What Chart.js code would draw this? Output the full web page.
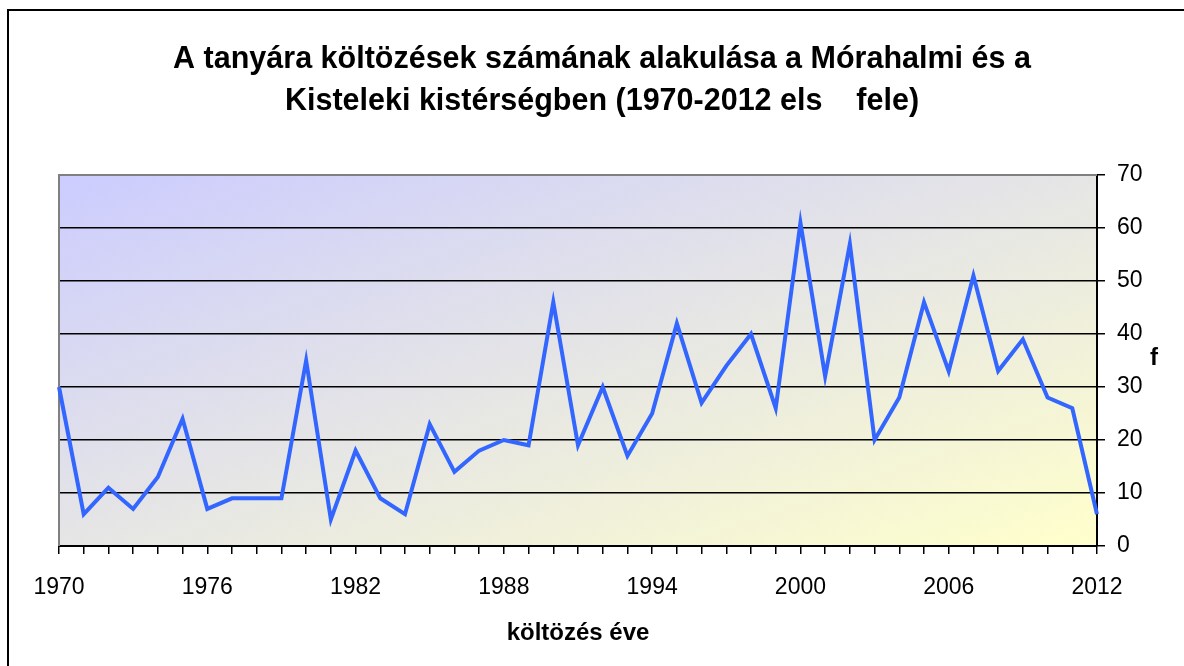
<!DOCTYPE html>
<html>
<head>
<meta charset="utf-8">
<title>Tanyára költözések</title>
<style>
  html, body { margin: 0; padding: 0; background: #fff; }
  #wrap { width: 1184px; height: 666px; }
</style>
</head>
<body>
<div id="wrap"><canvas id="chart" width="1184" height="666"></canvas></div>

<script src="https://cdn.jsdelivr.net/npm/chart.js@4/dist/chart.umd.min.js"></script>
<script>
// chart data
var years = ['1970','1971','1972','1973','1974','1975','1976','1977','1978','1979',
             '1980','1981','1982','1983','1984','1985','1986','1987','1988','1989',
             '1990','1991','1992','1993','1994','1995','1996','1997','1998','1999',
             '2000','2001','2002','2003','2004','2005','2006','2007','2008','2009',
             '2010','2011','2012'];
var moves = [30, 6, 11, 7, 13, 24, 7, 9, 9, 9,
             35, 5, 18, 9, 6, 23, 14, 18, 20, 19,
             46, 19, 30, 17, 25, 42, 27, 34, 40, 26,
             61, 32, 57, 20, 28, 46, 33, 51, 33, 39,
             28, 26, 6];
var shownYears = ['1970','1976','1982','1988','1994','2000','2006','2012'];

var titleLines = ['A tanyára költözések számának alakulása a Mórahalmi és a',
                  'Kisteleki kistérségben (1970-2012 els    fele)'];
var xTitle = 'költözés éve';
var yTitle = 'f';

var fontFam = '"Liberation Sans", Arial, sans-serif';
Chart.defaults.font.family = fontFam;
Chart.defaults.color = '#000';

// background: outer frame + diagonal gradient in the plot area
var backPlugin = {
  id: 'back',
  beforeDraw: function (chart) {
    var ctx = chart.ctx, a = chart.chartArea;
    ctx.save();
    ctx.fillStyle = '#fff';
    ctx.fillRect(0, 0, chart.width, chart.height);
    ctx.strokeStyle = '#000';
    ctx.lineWidth = 2;
    ctx.strokeRect(8, 10, 1200, 700);

    ctx.translate(a.left, a.top);
    ctx.scale(a.right - a.left, a.bottom - a.top);
    var g = ctx.createLinearGradient(0, 0, 1, 1);
    g.addColorStop(0, '#ccccff');
    g.addColorStop(1, '#ffffcc');
    ctx.fillStyle = g;
    ctx.fillRect(0, 0, 1, 1);
    ctx.restore();
  },
  beforeDatasetsDraw: function (chart) {
    var ctx = chart.ctx, a = chart.chartArea;
    ctx.save();
    ctx.strokeStyle = '#808080';
    ctx.lineWidth = 2;
    ctx.beginPath();
    ctx.moveTo(a.left, a.bottom);
    ctx.lineTo(a.left, a.top);
    ctx.lineTo(a.right, a.top);
    ctx.stroke();
    ctx.restore();
  },
  afterDraw: function (chart) {
    var ctx = chart.ctx;
    ctx.save();
    ctx.fillStyle = '#000';
    ctx.font = 'bold 24px ' + fontFam;
    ctx.textAlign = 'center';
    ctx.textBaseline = 'middle';
    ctx.fillText(yTitle, 1154, 358);
    ctx.restore();
  }
};

new Chart(document.getElementById('chart'), {
  type: 'line',
  data: {
    labels: years,
    datasets: [{
      data: moves,
      borderColor: '#3366ff',
      borderWidth: 4,
      pointRadius: 0,
      tension: 0,
      fill: false
    }]
  },
  options: {
    responsive: false,
    animation: false,
    layout: { padding: { left: 20, right: 0, top: 10, bottom: 0 } },
    plugins: {
      legend: { display: false },
      tooltip: { enabled: false },
      title: {
        display: true,
        text: titleLines,
        color: '#000',
        font: { size: 30.5, weight: 'bold', lineHeight: 1.377 },
        padding: { top: 29, bottom: 52 }
      }
    },
    scales: {
      x: {
        grid: { display: true, drawOnChartArea: false, drawTicks: true, tickLength: 8, color: '#000', lineWidth: 1.5 },
        border: { display: true, color: '#000', width: 2 },
        ticks: {
          autoSkip: false,
          maxRotation: 0,
          padding: 20,
          color: '#000',
          font: { size: 23 },
          callback: function (v) {
            var y = this.getLabelForValue(v);
            return shownYears.indexOf(y) >= 0 ? y : '';
          }
        },
        title: {
          display: true,
          text: xTitle,
          color: '#000',
          font: { size: 24, weight: 'bold' },
          padding: { top: 0, bottom: 18 }
        },
        afterFit: function (s) { s.height = 120; }
      },
      y: {
        position: 'right',
        min: 0,
        max: 70,
        grid: {
          color: function (c) { return c.tick && c.tick.value === 70 ? '#808080' : '#000'; },
          tickColor: '#000',
          lineWidth: 1.5,
          tickLength: 8
        },
        border: { color: '#000', width: 2 },
        ticks: { stepSize: 10, padding: 12, color: '#000', font: { size: 23 } },
        afterFit: function (s) { s.width = 87; }
      },
      // empty spacer on the left so the title centres like the original
      spacer: {
        type: 'linear',
        position: 'left',
        grid: { display: false },
        border: { display: false },
        ticks: { display: false },
        afterFit: function (s) { s.width = 39; }
      }
    }
  },
  plugins: [backPlugin]
});
</script>
</body>
</html>
